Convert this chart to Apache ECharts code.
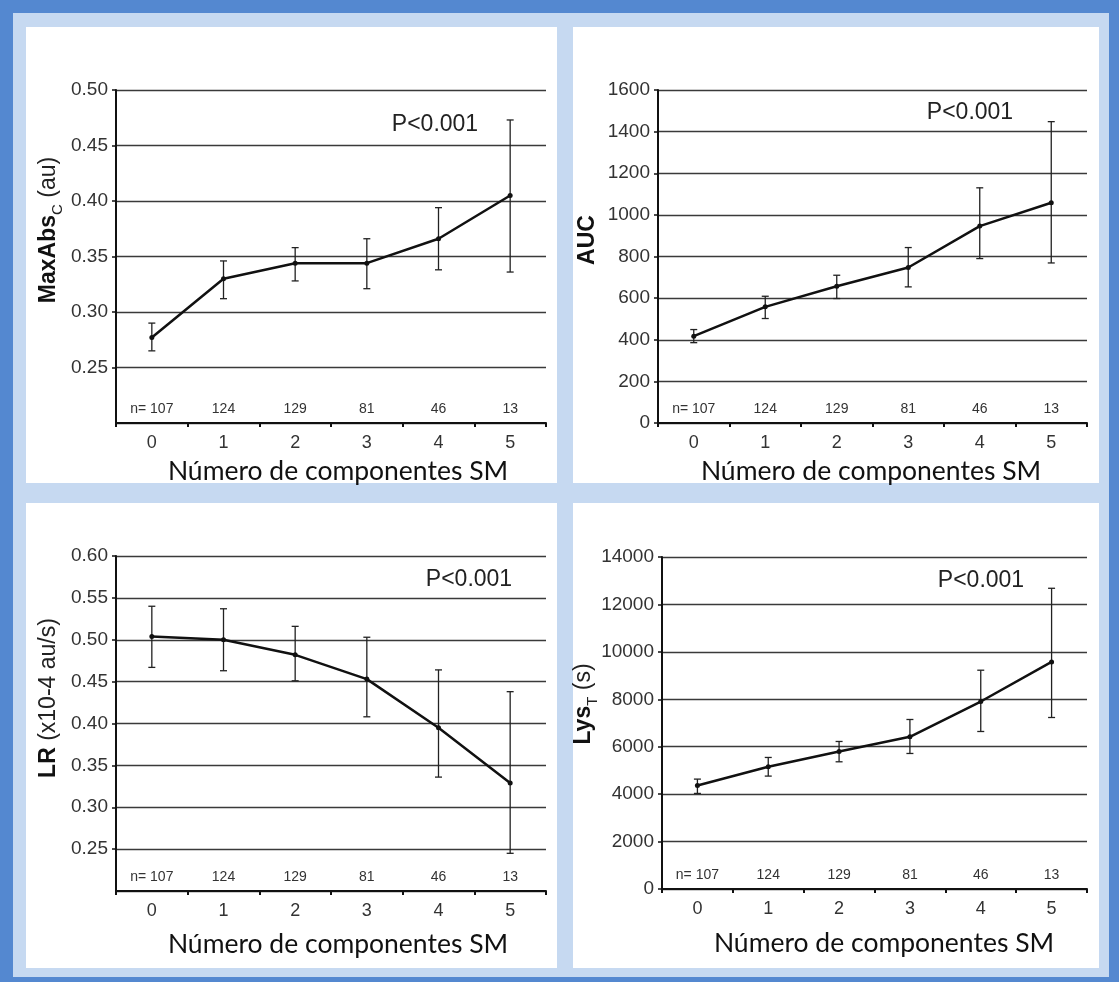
<!DOCTYPE html>
<html><head><meta charset="utf-8">
<script src="https://cdn.jsdelivr.net/npm/echarts@6/dist/echarts.min.js"></script>
<style>
html,body{margin:0;padding:0;}
#wrap{position:relative;width:1119px;height:982px;background:#5488d0;overflow:hidden}
.lb{position:absolute;left:13px;top:13px;width:1096px;height:964px;background:#c6d9f1}
.pn{position:absolute;background:#fff}
#c{position:absolute;left:0;top:0;width:1119px;height:982px}
</style>
</head><body>
<div id="wrap">
<div class="lb"></div>
<div class="pn" style="left:26px;top:27px;width:531px;height:456px"></div>
<div class="pn" style="left:573px;top:27px;width:526px;height:456px"></div>
<div class="pn" style="left:26px;top:503px;width:531px;height:465px"></div>
<div class="pn" style="left:573px;top:503px;width:526px;height:465px"></div>
<div id="c"></div>
</div>
<script>
// ---------- data ----------
const categories = ['0', '1', '2', '3', '4', '5'];
const nCounts = ['107', '124', '129', '81', '46', '13'];
const xTitle = 'Número de componentes SM';
const pText = 'P<0.001';

const maxAbsMean = [0.277, 0.330, 0.344, 0.344, 0.366, 0.405];
const maxAbsLow  = [0.265, 0.312, 0.328, 0.321, 0.338, 0.336];
const maxAbsHigh = [0.290, 0.346, 0.358, 0.366, 0.394, 0.473];

const aucMean = [417, 558, 657, 747, 946, 1058];
const aucLow  = [386, 502, 598, 654, 790, 769];
const aucHigh = [449, 609, 710, 843, 1130, 1448];

const lrMean = [0.504, 0.500, 0.482, 0.453, 0.395, 0.329];
const lrLow  = [0.467, 0.463, 0.451, 0.408, 0.336, 0.245];
const lrHigh = [0.540, 0.537, 0.516, 0.503, 0.464, 0.438];

const lysMean = [4367, 5154, 5800, 6418, 7906, 9577];
const lysLow  = [4030, 4761, 5364, 5715, 6642, 7232];
const lysHigh = [4634, 5547, 6221, 7148, 9226, 12681];

const yRange1 = [0.20, 0.50, 0.05];
const yRange2 = [0, 1600, 200];
const yRange3 = [0.20, 0.60, 0.05];
const yRange4 = [0, 14000, 2000];

const yName1 = ['MaxAbs', 'C', ' (au)'];
const yName2 = ['AUC', '', ''];
const yName3 = ['LR', '', ' (x10-4 au/s)'];
const yName4 = ['Lys', 'T', ' (s)'];

// ---------- layout ----------
const panels = [
  {grid: {left: 116, top: 90, width: 430, height: 333}, mean: maxAbsMean, lo: maxAbsLow, hi: maxAbsHigh,
   range: yRange1, dec: 2, showMin: false, p: [435, 125], title: [338, 471], yname: yName1, yn: [51, 230]},
  {grid: {left: 658, top: 90, width: 429, height: 333}, mean: aucMean, lo: aucLow, hi: aucHigh,
   range: yRange2, dec: 0, showMin: true, p: [970, 113], title: [871, 471], yname: yName2, yn: [590, 240]},
  {grid: {left: 116, top: 556, width: 430, height: 335}, mean: lrMean, lo: lrLow, hi: lrHigh,
   range: yRange3, dec: 2, showMin: false, p: [469, 580], title: [338, 944], yname: yName3, yn: [51, 698]},
  {grid: {left: 662, top: 557, width: 425, height: 332}, mean: lysMean, lo: lysLow, hi: lysHigh,
   range: yRange4, dec: 0, showMin: true, p: [981, 581], title: [884, 943], yname: yName4, yn: [586, 704]}
];

const AX = 'Liberation Sans, Arial, sans-serif';
const TITLEF = 'Lato, Carlito, Calibri, sans-serif';

const grids = [], xAxes = [], yAxes = [], series = [], graphics = [];
panels.forEach((pn, k) => {
  grids.push(Object.assign({containLabel: false}, pn.grid));
  xAxes.push({
    gridIndex: k, type: 'category', data: categories, boundaryGap: true, position: 'bottom',
    axisLine: {show: true, lineStyle: {color: '#111', width: 2}},
    axisTick: {show: true, length: 4, lineStyle: {color: '#111', width: 2}},
    axisLabel: {fontFamily: AX, fontSize: 18, color: '#333', margin: 11},
    splitLine: {show: false}
  });
  xAxes.push({
    gridIndex: k, type: 'category', data: nCounts, boundaryGap: true, position: 'bottom',
    axisLine: {show: false}, axisTick: {show: false}, splitLine: {show: false},
    axisLabel: {inside: true, fontFamily: AX, fontSize: 14, color: '#333', margin: 7,
      formatter: (v, i) => (i === 0 ? 'n= ' + v : v)}
  });
  yAxes.push({
    gridIndex: k, type: 'value', min: pn.range[0], max: pn.range[1], interval: pn.range[2],
    axisLine: {show: true, lineStyle: {color: '#111', width: 2}},
    axisTick: {show: true, length: 4, lineStyle: {color: '#111', width: 1.5}},
    axisLabel: {fontFamily: AX, fontSize: 19, color: '#333', margin: 8, showMinLabel: pn.showMin,
      formatter: v => v.toFixed(pn.dec)},
    splitLine: {show: true, lineStyle: {color: '#3a3a3a', width: 1.3}}
  });
  const ebData = pn.lo.map((l, i) => [i, l, pn.hi[i]]);
  series.push({
    type: 'custom', xAxisIndex: 2 * k, yAxisIndex: k, data: ebData, z: 3,
    encode: {x: 0, y: [1, 2]},
    renderItem: (params, api) => {
      const i = api.value(0);
      const t = api.coord([i, api.value(2)]);
      const b = api.coord([i, api.value(1)]);
      const w = 3.5;
      const st = {stroke: '#222', lineWidth: 1.3};
      return {type: 'group', children: [
        {type: 'line', shape: {x1: t[0], y1: t[1], x2: b[0], y2: b[1]}, style: st},
        {type: 'line', shape: {x1: t[0] - w, y1: t[1], x2: t[0] + w, y2: t[1]}, style: st},
        {type: 'line', shape: {x1: b[0] - w, y1: b[1], x2: b[0] + w, y2: b[1]}, style: st}
      ]};
    }
  });
  series.push({
    type: 'line', xAxisIndex: 2 * k, yAxisIndex: k, data: pn.mean, z: 4,
    symbol: 'circle', symbolSize: 5, showSymbol: true,
    lineStyle: {color: '#111', width: 2.5}, itemStyle: {color: '#111'},
    emphasis: {disabled: true}
  });
  graphics.push({
    type: 'text', x: pn.p[0], y: pn.p[1], z: 100,
    style: {text: pText, font: '23px ' + AX, fill: '#222', align: 'center', verticalAlign: 'middle'}
  });
  graphics.push({
    type: 'text', x: pn.title[0], y: pn.title[1], z: 100,
    style: {text: xTitle, fontFamily: TITLEF, fontSize: 26.5, fill: '#111', align: 'center', verticalAlign: 'middle'}
  });
  const yn = pn.yname;
  let txt = '{b|' + yn[0] + '}';
  if (yn[1]) txt += '{s|' + yn[1] + '}';
  if (yn[2]) txt += '{n|' + yn[2] + '}';
  graphics.push({
    type: 'text', x: pn.yn[0], y: pn.yn[1], rotation: Math.PI / 2, z: 100,
    style: {
      text: txt, align: 'center', verticalAlign: 'middle',
      rich: {
        b: {fontFamily: AX, fontWeight: 'bold', fontSize: 23, fill: '#111', verticalAlign: 'bottom', padding: [0, 0, 5, 0]},
        n: {fontFamily: AX, fontWeight: 'normal', fontSize: 23, fill: '#222', verticalAlign: 'bottom', padding: [0, 0, 5, 0]},
        s: {fontFamily: AX, fontWeight: 'normal', fontSize: 15, fill: '#222', verticalAlign: 'bottom'}
      }
    }
  });
});

const chart = echarts.init(document.getElementById('c'), null, {renderer: 'canvas'});
chart.setOption({
  backgroundColor: 'transparent',
  animation: false,
  grid: grids, xAxis: xAxes, yAxis: yAxes, series: series,
  graphic: {elements: graphics}
});
</script>
</body></html>
